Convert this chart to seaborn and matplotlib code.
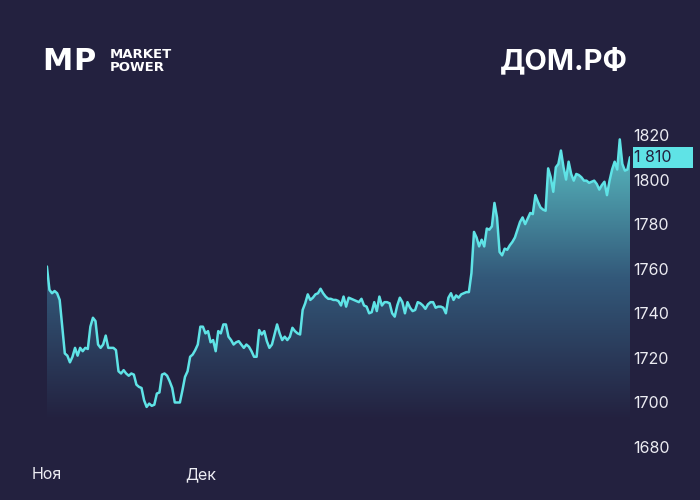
import numpy as np
import pandas as pd
import seaborn as sns
import matplotlib.pyplot as plt
import matplotlib.transforms as mtransforms
from matplotlib.colors import LinearSegmentedColormap
from matplotlib.patches import Rectangle

# price series (roughly evenly spaced points)
prices = [
    1761, 1750.5, 1749, 1750, 1749, 1746, 1734, 1722, 1721, 1718,
    1720.5, 1724.5, 1721, 1724.5, 1723, 1724.5, 1724, 1734, 1738, 1736.5,
    1726, 1724.5, 1726, 1730, 1724.5, 1724.5, 1724.5, 1723.5, 1714, 1713,
    1714.5, 1713, 1712, 1713, 1712.5, 1708, 1707, 1706.5, 1701, 1698,
    1699.5, 1698.5, 1699, 1704, 1704.5, 1712.5, 1713, 1712, 1709.5, 1706.5,
    1700, 1700, 1700, 1705.5, 1711.5, 1714, 1720.5, 1721.5,
    1723.5, 1726, 1734, 1734, 1731, 1732, 1727, 1728, 1723, 1732,
    1731, 1735, 1735, 1729.5, 1728, 1726, 1727, 1727.5, 1726, 1724.5,
    1726, 1725, 1723, 1720.5, 1720.5, 1732.5, 1730.5, 1732, 1727.5, 1724.5,
    1726, 1730.5, 1735, 1731, 1728, 1729.5, 1728, 1729.5, 1733.5, 1732,
    1731, 1730.5, 1741.5, 1744.5, 1748.5, 1746, 1747, 1748.5, 1749, 1751,
    1749,
    1747.5, 1746.5, 1746.5, 1746, 1746, 1745.5, 1743.5, 1747.5, 1743, 1747,
    1746.5, 1746, 1745.5, 1745, 1746.5, 1743.5, 1743, 1740, 1740.5, 1745,
    1741, 1747.5, 1743.5, 1745, 1745, 1744.5, 1740, 1738.5, 1743.5, 1747,
    1745, 1740, 1745, 1742.5, 1741, 1741.5, 1745, 1744.5, 1743.5, 1742,
    1744, 1745, 1745, 1742.5, 1743, 1743, 1742.5, 1740, 1747, 1749,
    1746, 1748, 1747, 1748.5, 1749, 1749.5, 1749.5,
    1758, 1776.5, 1774, 1770, 1773, 1770, 1778, 1777.5, 1779, 1789.5,
    1783, 1767.5, 1766, 1769, 1768.5, 1770.5, 1772, 1774, 1777.5, 1781,
    1783, 1780, 1782.5, 1785, 1784.5, 1793, 1790, 1787.5, 1786.5, 1786,
    1805, 1801, 1794.5, 1805.5, 1807, 1813, 1805.5, 1800, 1808, 1802.5,
    1799.5, 1802.5, 1802, 1801, 1799.5, 1799.5, 1798.5, 1799, 1799.5, 1798,
    1795.5, 1797.5, 1799, 1793, 1799.5, 1804.5, 1808, 1804.5, 1818, 1807,
    1804, 1804.5, 1810,
]
month_ticks = [0, 60]
month_labels = ["Ноя", "Дек"]
y_ticks = [1680, 1700, 1720, 1740, 1760, 1780, 1800, 1820]

BG = "#23213f"
LINE = "#5fe3e6"
TEXT = "#ececf2"

sns.set_theme(style="dark", rc={"axes.facecolor": BG, "figure.facecolor": BG,
                                "savefig.facecolor": BG})
plt.rcParams["font.family"] = ["Inter", "DejaVu Sans"]

df = pd.DataFrame({"t": np.arange(len(prices)), "price": prices})

fig = plt.figure(figsize=(7, 5), dpi=100)
ax = fig.add_axes([0.067, 0.08, 0.833, 0.68])

# gradient fill under the line
base = 1692
grad = LinearSegmentedColormap.from_list("fade", [BG, "#33597a", "#5cc4c7"])
im = ax.imshow(np.linspace(0, 1, 256).reshape(-1, 1), cmap=grad, origin="lower",
               aspect="auto", extent=[0, len(prices) - 1, base, 1820], zorder=1)
fill = ax.fill_between(df["t"], df["price"], base, facecolor="none", edgecolor="none")
im.set_clip_path(fill.get_paths()[0], transform=ax.transData)

sns.lineplot(data=df, x="t", y="price", color=LINE, linewidth=1.8, ax=ax, zorder=3)

ax.set_xlim(0, len(prices) - 1)
ax.set_ylim(1674.2, 1826.7)
ax.grid(False)
for s in ax.spines.values():
    s.set_visible(False)
ax.set_xlabel("")
ax.set_ylabel("")

ax.yaxis.tick_right()
ax.set_yticks(y_ticks)
ax.set_yticklabels([str(v) for v in y_ticks])
ax.set_xticks(month_ticks)
ax.set_xticklabels(month_labels)
ax.tick_params(axis="y", length=0, pad=2, labelsize=11.5, labelcolor=TEXT)
ax.tick_params(axis="x", length=0, pad=5, labelsize=11.5, labelcolor=TEXT)

# last price marker on the right axis
last = prices[-1]
trans = mtransforms.blended_transform_factory(ax.transAxes, ax.transData)
ax.add_patch(Rectangle((1.005, last - 4.7), 0.103, 9.4, transform=trans,
                       clip_on=False, facecolor=LINE, edgecolor="none", zorder=5))
ax.text(1.007, last, f"{last:,.0f}".replace(",", " "), transform=trans,
        ha="left", va="center", color=BG, fontsize=11.5, zorder=6)

# header: logo and ticker name
logo = dict(fontweight="bold", family="DejaVu Sans", color="white",
            ha="left", va="center")
fig.text(42 / 700, 1 - 62 / 500, "M", fontsize=22, **logo)
fig.text(73 / 700, 1 - 62 / 500, "P", fontsize=22, **logo)
fig.text(110 / 700, 1 - 55 / 500, "MARKET", fontsize=9.5, **logo)
fig.text(110 / 700, 1 - 67.5 / 500, "POWER", fontsize=9.5, **logo)
fig.text(628 / 700, 1 - 61 / 500, "ДОМ.РФ", fontsize=21, fontweight="bold",
         color="white", ha="right", va="center")

fig.savefig("out.png", dpi=100, facecolor=BG)
